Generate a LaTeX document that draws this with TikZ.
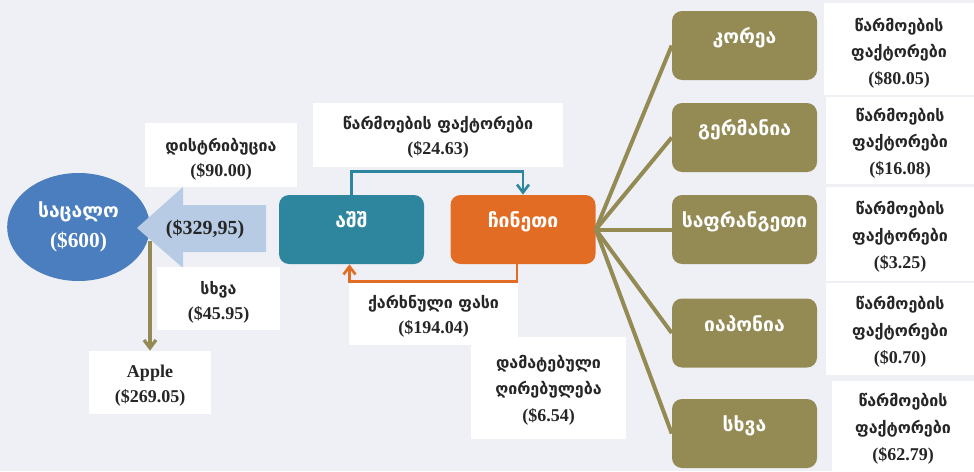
\documentclass[tikz,border=0pt]{standalone}
\usepackage{fontspec}
\setmainfont{Liberation Serif}
\newfontfamily\geofont{DejaVu Sans}
\usetikzlibrary{arrows.meta,shapes.geometric}
\definecolor{bgc}{HTML}{EEF0F6}
\definecolor{ellc}{HTML}{4A7EBE}
\definecolor{arrc}{HTML}{B7CCE4}
\definecolor{tealc}{HTML}{2E869E}
\definecolor{orangec}{HTML}{E36C25}
\definecolor{olivec}{HTML}{948A54}
\definecolor{txtc}{HTML}{262626}
\newcommand\geo[2][12]{{\geofont\fontsize{#1}{19}\selectfont #2}}
\begin{document}
\begin{tikzpicture}[x=0.75pt,y=-0.75pt,
  lbl/.style={font=\bfseries\fontsize{13.5}{18.75}\selectfont, text=txtc, align=center, inner sep=0pt},
  lbl3/.style={lbl, font=\bfseries\fontsize{13.5}{20}\selectfont},
  wbox/.style={fill=white, inner sep=0pt, minimum width=#1},
  wbox/.default=100pt,
  cbox/.style={fill=#1, rounded corners=7.5pt, inner sep=0pt, text=white, align=center,
    font=\bfseries\fontsize{14}{19}\selectfont, minimum width=108.75pt, minimum height=51.75pt,
    text height=3pt, text depth=5.5pt},
  oline/.style={draw=olivec, line width=3pt},
  tipv/.style={-{Straight Barb[length=6pt,width=9pt]}}
]
\fill[bgc] (0,0) rectangle (974,471);
\useasboundingbox (0,0) rectangle (974,471);

% left part
\node[ellipse, fill=ellc, minimum width=107pt, minimum height=81pt, inner sep=0pt,
  text=white, align=center, font=\bfseries\fontsize{16}{22.5}\selectfont] (retail) at (78.5,227) {\geo[14.5]{საცალო}\\(\$600)};
\fill[arrc] (137,228) -- (183,187) -- (183,205) -- (266,205) -- (266,252) -- (183,252) -- (183,268) -- cycle;
\node[lbl, font=\bfseries\fontsize{15}{19}\selectfont] (amt) at (205,229) {(\$329,95)};

\node[wbox=114pt, minimum height=48pt, label={[lbl,yshift=-3pt]center:{\geo{დისტრიბუცია}\\(\$90.00)}}] (dist) at (221,155) {};
\node[wbox=92.25pt, minimum height=47.25pt, label={[lbl,yshift=-3pt]center:{\geo{სხვა}\\(\$45.95)}}] (other) at (218.5,298.5) {};
\node[wbox=91.5pt, minimum height=47.25pt, label={[lbl,yshift=-2pt]center:{Apple\\(\$269.05)}}] (apple) at (150,382.5) {};
\coordinate (split) at (150,241);
\draw[draw=olivec, line width=2.5pt, tipv] (split) -- (apple.north);

% middle
\node[wbox=187.5pt, minimum height=48pt, label={[lbl,yshift=-2pt]center:{\geo{წარმოების ფაქტორები}\\(\$24.63)}}] (prod) at (438,135) {};
\node[cbox=tealc] (usa) at (351.5,229.5) {\geo[14.5]{აშშ}};
\node[cbox=orangec] (china) at (523,229.5) {\geo[14.5]{ჩინეთი}};
\draw[draw=tealc, line width=2pt, tipv] (usa.north) -- ++(0,-23) -| (china.north);
\draw[draw=orangec, line width=2pt, tipv] ([xshift=-4.5pt]china.south) -- ++(0,17) -| ([xshift=-1.5pt]usa.south);
\node[wbox=126.75pt, minimum height=46.5pt, label={[lbl,yshift=-2pt]center:{\geo{ქარხნული ფასი}\\(\$194.04)}}] (factory) at (433.5,314) {};
\node[wbox=116.25pt, minimum height=76.5pt, label={[lbl3,yshift=-1.5pt]center:{\geo{დამატებული}\\\geo{ღირებულება}\\(\$6.54)}}] (value) at (548.5,388) {};

% right olive boxes
\node[cbox=olivec] (korea) at (744.5,45.5) {\geo[14.5]{კორეა}};
\node[cbox=olivec] (germany) at (744.5,137.5) {\geo[14.5]{გერმანია}};
\node[cbox=olivec] (france) at (744.5,229.5) {\geo[14.5]{საფრანგეთი}};
\node[cbox=olivec] (japan) at (744.5,333) {\geo[14.5]{იაპონია}};
\node[cbox=olivec] (rest) at (744.5,433.5) {\geo[14.5]{სხვა}};
\foreach \t in {korea,germany,france,japan,rest}
  \draw[oline] (china.east) -- (\t.west);

% right white boxes
\node[wbox=112.5pt, minimum height=69pt, label={[lbl3,yshift=-3pt]center:{\geo{წარმოების}\\\geo{ფაქტორები}\\(\$80.05)}}] (rk) at (899,49) {};
\node[wbox=111pt, minimum height=65pt, label={[lbl3,yshift=-2pt]center:{\geo{წარმოების}\\\geo{ფაქტორები}\\(\$16.08)}}] (rg) at (900,140.5) {};
\node[wbox=111pt, minimum height=70.5pt, label={[lbl3,yshift=-2pt]center:{\geo{წარმოების}\\\geo{ფაქტორები}\\(\$3.25)}}] (rf) at (900,234) {};
\node[wbox=111pt, minimum height=69pt, label={[lbl3,yshift=-2pt]center:{\geo{წარმოების}\\\geo{ფაქტორები}\\(\$0.70)}}] (rj) at (900,329) {};
\node[wbox=106.5pt, minimum height=67.5pt, label={[lbl3,yshift=-2pt]center:{\geo{წარმოების}\\\geo{ფაქტორები}\\(\$62.79)}}] (rr) at (903,426) {};
\end{tikzpicture}
\end{document}
